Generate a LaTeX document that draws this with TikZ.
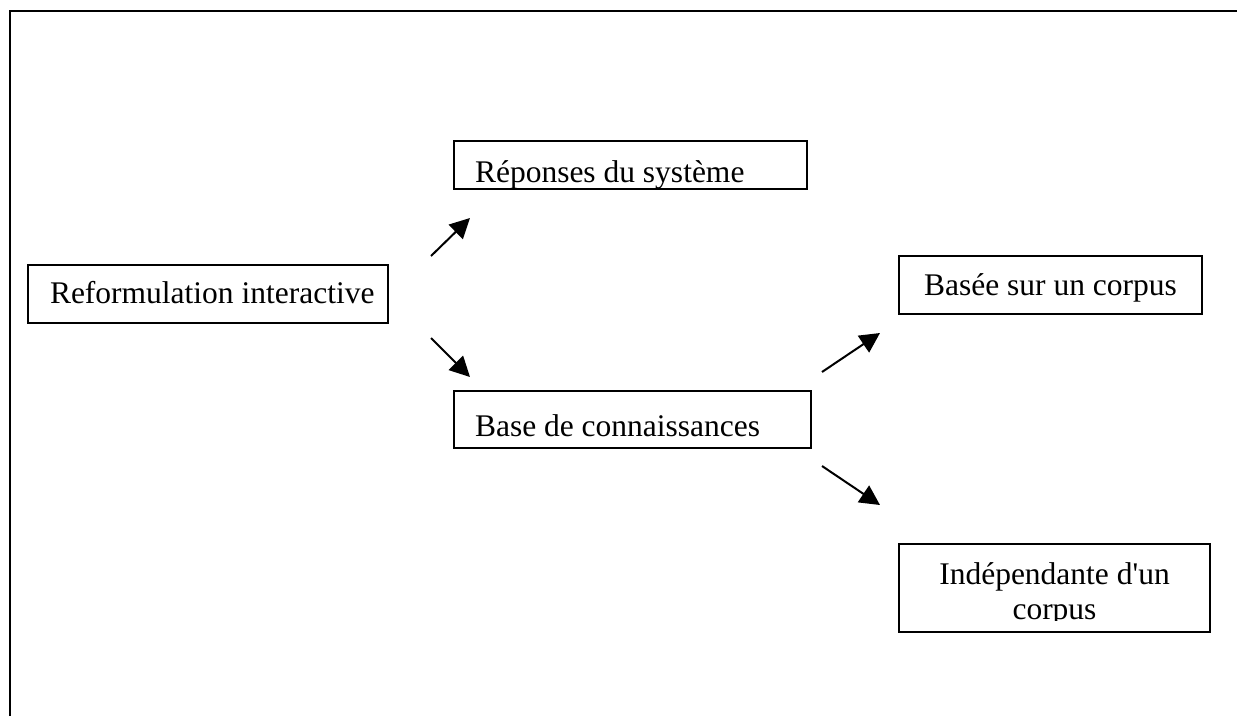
\documentclass[tikz,border=0pt]{standalone}
\usepackage{fontspec}
\setmainfont{Liberation Serif}
\usetikzlibrary{arrows.meta}
\newcommand{\lineL}[2]{\makebox[#1][l]{#2}}
\newcommand{\lineC}[2]{\makebox[#1][c]{#2}}
\begin{document}
\begin{tikzpicture}[x=1pt,y=-1pt,
  frame/.style={line width=2pt},
  box/.style={draw, line width=1.8pt, rectangle, inner ysep=0pt,
    text depth=0pt, font=\fontsize{31.5}{35}\selectfont},
  arr/.style={line width=2pt, -{Triangle[length=20pt,width=20pt]}}]
\useasboundingbox (0,0) rectangle (1237,716);
% page frame (left and top edges)
\draw[frame] (9.5,716) -- (9.5,11) -- (1237,11);

% boxes
\node[box, minimum width=360pt, minimum height=58pt, inner xsep=22pt,
  text height=18pt] (reform) at (208,294)
  {\lineL{316pt}{Reformulation interactive}};
\node[box, minimum width=353pt, minimum height=48pt, inner xsep=21pt,
  text height=35pt] (rep) at (630.5,165)
  {\lineL{311pt}{Réponses du système}};
\node[box, minimum width=357pt, minimum height=57pt, inner xsep=21pt,
  text height=33pt] (base) at (632.5,419.5)
  {\lineL{315pt}{Base de connaissances}};
\node[box, minimum width=303pt, minimum height=58pt, inner xsep=10pt,
  text height=20pt] (corp) at (1050.5,285)
  {\lineC{283pt}{Basée sur un corpus}};
\node[draw, line width=1.8pt, rectangle, minimum width=311pt, minimum height=88pt,
  path picture={
    \clip (path picture bounding box.north west) rectangle
      ([yshift=12pt]path picture bounding box.south east);
    \node[anchor=base, align=center, inner sep=0pt, font=\fontsize{31.5}{35}\selectfont]
      (indtext) at ([yshift=-75pt]path picture bounding box.north)
      {Indépendante d\textquotesingle un\\corpus};
  }] (indep) at (1054.5,588) {};

% connectors
\coordinate (a1s) at (431,256); \coordinate (a1e) at (470,218);
\coordinate (a2s) at (431,338); \coordinate (a2e) at (470,377);
\coordinate (a3s) at (822,372); \coordinate (a3e) at (880,333);
\coordinate (a4s) at (822,466); \coordinate (a4e) at (880,505);
\draw[arr] (a1s) -- (a1e);
\draw[arr] (a2s) -- (a2e);
\draw[arr] (a3s) -- (a3e);
\draw[arr] (a4s) -- (a4e);
\end{tikzpicture}
\end{document}
